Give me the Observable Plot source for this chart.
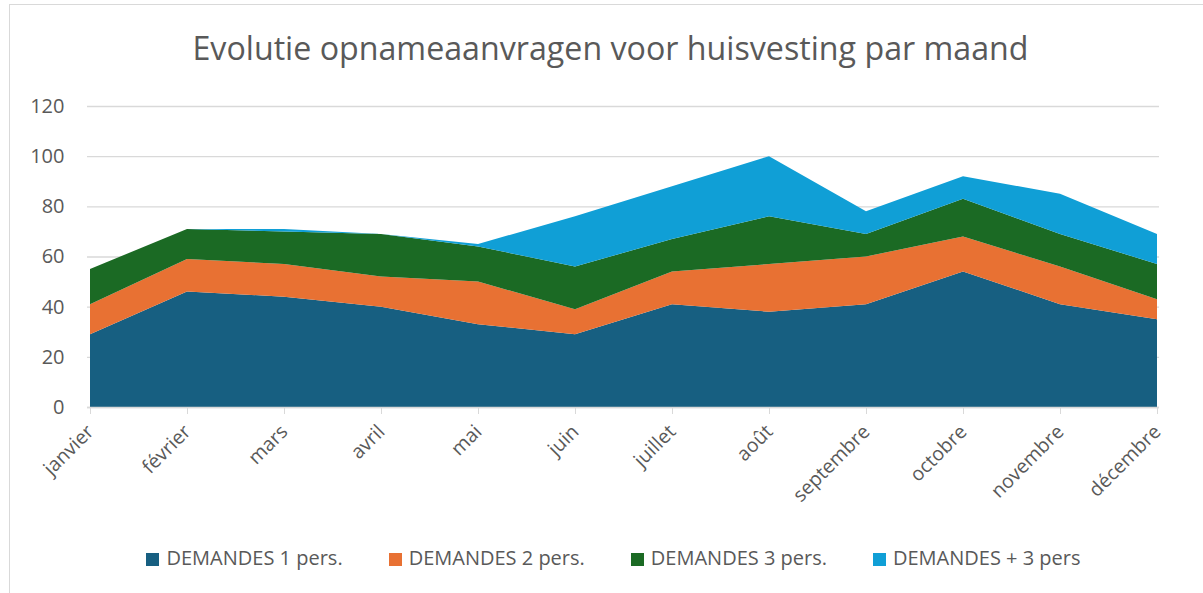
<!DOCTYPE html>
<html>
<head>
<meta charset="utf-8">
<script src="https://cdn.jsdelivr.net/npm/d3@7"></script>
<script src="https://cdn.jsdelivr.net/npm/@observablehq/plot@0.6"></script>
<style>
  html, body { margin: 0; padding: 0; background: #fff; overflow: hidden; }
  body { width: 1203px; height: 593px; position: relative; font-family: "Open Sans", Lato, sans-serif; }
  #frame { position: absolute; left: 9px; top: 4px; width: 1200px; height: 600px; border: 1px solid #d9d9d9; box-sizing: border-box; }
  #title { position: absolute; left: 9px; width: 1203px; top: 28px; text-align: center; font-size: 32.2px; color: #595959; line-height: 40px; white-space: nowrap; }
  #chart { position: absolute; left: 0; top: 90px; }
  #legend { position: absolute; left: 12px; width: 1203px; top: 546px; text-align: center; font-size: 20px; color: #595959; line-height: 24px; white-space: nowrap; }
  .item { display: inline-block; margin: 0 23px; }
  .sw { display: inline-block; width: 13px; height: 13px; margin-right: 7px; vertical-align: -1px; }
</style>
</head>
<body>
<div id="frame"></div>
<div id="title"></div>
<div id="chart"></div>
<div id="legend"></div>
<script>
const titleText = "Evolutie opnameaanvragen voor huisvesting par maand";
const months = ["janvier","février","mars","avril","mai","juin","juillet","août","septembre","octobre","novembre","décembre"];
const seriesNames = ["DEMANDES 1 pers.","DEMANDES 2 pers.","DEMANDES 3 pers.","DEMANDES + 3 pers"];
const pers1 = [29, 46, 44, 40, 33, 29, 41, 38, 41, 54, 41, 35];
const pers2 = [12, 13, 13, 12, 17, 10, 13, 19, 19, 14, 15, 8];
const pers3 = [14, 12, 13, 17, 14, 17, 13, 19, 9, 15, 13, 14];
const pers4 = [0, 0, 1, 0, 1, 20, 21, 24, 9, 9, 16, 12];
const yTicks = [0, 20, 40, 60, 80, 100, 120];
const colors = ["#175f81", "#e87133", "#1b6a24", "#109fd6"];

const values = [pers1, pers2, pers3, pers4];
const data = months.flatMap((m, i) => seriesNames.map((s, j) => ({month: m, serie: s, value: values[j][i]})));

document.getElementById("title").textContent = titleText;

const chart = Plot.plot({
  width: 1203,
  height: 455,
  marginLeft: 87,
  marginRight: 44,
  marginTop: 16,
  marginBottom: 138,
  style: {fontFamily: "'Open Sans', Lato, sans-serif", background: "transparent"},
  x: {type: "point", domain: months, padding: 0, label: null},
  y: {domain: [0, 120], label: null},
  color: {domain: seriesNames, range: colors},
  marks: [
    Plot.gridY(yTicks, {stroke: "#d9d9d9", strokeOpacity: 1, strokeWidth: 1.3}),
    Plot.areaY(data, {x: "month", y: "value", fill: "serie", z: "serie"}),
    Plot.ruleY([0], {stroke: "#d9d9d9", strokeWidth: 1.3}),
    Plot.axisY(yTicks, {tickSize: 0, tickPadding: 23, fontSize: 20, fill: "#595959", stroke: "none", label: null}),
    Plot.axisX({tickSize: 7, tickPadding: 14, tickRotate: -45, fontSize: 19.5, fill: "#595959", stroke: "#d9d9d9", label: null})
  ]
});
document.getElementById("chart").appendChild(chart);

const legend = document.getElementById("legend");
seriesNames.forEach((s, i) => {
  const item = document.createElement("span");
  item.className = "item";
  const sw = document.createElement("span");
  sw.className = "sw";
  sw.style.background = colors[i];
  item.appendChild(sw);
  item.appendChild(document.createTextNode(s));
  legend.appendChild(item);
});
</script>
</body>
</html>
